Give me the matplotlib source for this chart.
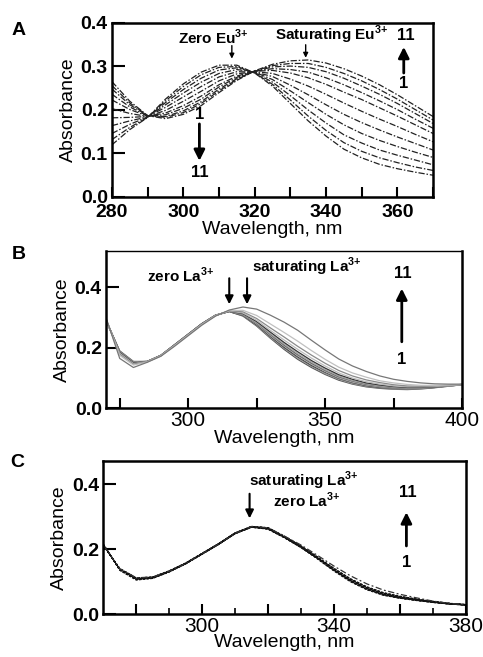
import numpy as np
import matplotlib
matplotlib.use("Agg")
import matplotlib.pyplot as plt

plt.rcParams['font.family'] = ['Liberation Sans', 'DejaVu Sans']
plt.rcParams['mathtext.fontset'] = 'custom'
plt.rcParams['mathtext.rm'] = 'Liberation Sans'
plt.rcParams['mathtext.bf'] = 'Liberation Sans:bold'

# ---- panel A: Eu3+ titration, 11 spectra ----
wl_a = [280, 285, 290, 295, 300, 305, 310, 315, 320, 325, 330, 335, 340, 345, 350, 355, 360, 365, 370]
spectra_a = [
    [0.120, 0.155, 0.183, 0.225, 0.260, 0.287, 0.303, 0.303, 0.285, 0.255, 0.215, 0.175, 0.140, 0.110, 0.090, 0.075, 0.065, 0.057, 0.050],
    [0.132, 0.160, 0.183, 0.221, 0.254, 0.281, 0.298, 0.300, 0.285, 0.259, 0.223, 0.186, 0.153, 0.125, 0.105, 0.090, 0.079, 0.069, 0.061],
    [0.146, 0.167, 0.184, 0.217, 0.247, 0.273, 0.292, 0.297, 0.286, 0.264, 0.233, 0.200, 0.170, 0.143, 0.124, 0.108, 0.096, 0.085, 0.074],
    [0.164, 0.175, 0.184, 0.212, 0.239, 0.264, 0.284, 0.293, 0.287, 0.270, 0.244, 0.217, 0.190, 0.166, 0.146, 0.130, 0.116, 0.103, 0.091],
    [0.182, 0.183, 0.185, 0.206, 0.230, 0.254, 0.276, 0.288, 0.287, 0.277, 0.257, 0.235, 0.212, 0.190, 0.171, 0.154, 0.138, 0.123, 0.108],
    [0.203, 0.192, 0.185, 0.199, 0.220, 0.243, 0.267, 0.283, 0.288, 0.284, 0.271, 0.255, 0.236, 0.216, 0.197, 0.179, 0.162, 0.144, 0.127],
    [0.223, 0.201, 0.186, 0.193, 0.210, 0.232, 0.258, 0.278, 0.289, 0.291, 0.285, 0.274, 0.259, 0.241, 0.224, 0.205, 0.186, 0.166, 0.146],
    [0.236, 0.207, 0.186, 0.189, 0.204, 0.225, 0.253, 0.275, 0.289, 0.295, 0.293, 0.287, 0.274, 0.258, 0.240, 0.221, 0.201, 0.179, 0.158],
    [0.248, 0.212, 0.187, 0.185, 0.198, 0.219, 0.248, 0.272, 0.289, 0.299, 0.301, 0.298, 0.288, 0.273, 0.255, 0.236, 0.215, 0.192, 0.169],
    [0.256, 0.216, 0.187, 0.183, 0.194, 0.215, 0.244, 0.270, 0.290, 0.302, 0.307, 0.307, 0.298, 0.284, 0.267, 0.247, 0.225, 0.201, 0.177],
    [0.265, 0.220, 0.187, 0.180, 0.190, 0.210, 0.240, 0.268, 0.290, 0.305, 0.313, 0.315, 0.308, 0.295, 0.278, 0.258, 0.235, 0.210, 0.185],
]

# ---- panel B: La3+ titration ----
wl_b = [270, 275, 280, 285, 290, 295, 300, 305, 310, 315, 320, 325, 330, 335, 340,
        345, 350, 355, 360, 365, 370, 375, 380, 385, 390, 395, 400]
spectra_b = [
    [0.290, 0.190, 0.155, 0.155, 0.175, 0.210, 0.245, 0.280, 0.308, 0.320, 0.305, 0.272, 0.232, 0.195, 0.162, 0.135, 0.112, 0.093, 0.080, 0.071, 0.066, 0.063, 0.062, 0.064, 0.068, 0.073, 0.078],
    [0.290, 0.189, 0.154, 0.155, 0.175, 0.210, 0.245, 0.280, 0.308, 0.320, 0.306, 0.274, 0.235, 0.199, 0.166, 0.139, 0.115, 0.096, 0.082, 0.073, 0.068, 0.064, 0.063, 0.065, 0.069, 0.073, 0.078],
    [0.291, 0.188, 0.153, 0.155, 0.175, 0.210, 0.245, 0.280, 0.308, 0.320, 0.307, 0.276, 0.238, 0.202, 0.170, 0.142, 0.119, 0.099, 0.085, 0.075, 0.069, 0.066, 0.064, 0.066, 0.069, 0.074, 0.078],
    [0.291, 0.187, 0.153, 0.155, 0.175, 0.209, 0.244, 0.279, 0.308, 0.321, 0.309, 0.279, 0.241, 0.206, 0.174, 0.146, 0.122, 0.101, 0.087, 0.077, 0.071, 0.067, 0.065, 0.066, 0.070, 0.074, 0.078],
    [0.292, 0.186, 0.152, 0.155, 0.175, 0.209, 0.244, 0.279, 0.308, 0.321, 0.310, 0.281, 0.244, 0.209, 0.177, 0.149, 0.125, 0.104, 0.090, 0.079, 0.073, 0.068, 0.066, 0.067, 0.070, 0.074, 0.078],
    [0.292, 0.185, 0.151, 0.154, 0.174, 0.209, 0.244, 0.279, 0.307, 0.321, 0.311, 0.283, 0.247, 0.213, 0.181, 0.153, 0.128, 0.107, 0.092, 0.081, 0.074, 0.070, 0.067, 0.068, 0.071, 0.074, 0.078],
    [0.293, 0.184, 0.150, 0.154, 0.174, 0.209, 0.244, 0.279, 0.307, 0.321, 0.313, 0.287, 0.252, 0.218, 0.187, 0.158, 0.133, 0.111, 0.096, 0.084, 0.077, 0.072, 0.069, 0.069, 0.071, 0.075, 0.079],
    [0.293, 0.182, 0.148, 0.154, 0.174, 0.208, 0.243, 0.278, 0.307, 0.322, 0.315, 0.291, 0.258, 0.226, 0.195, 0.166, 0.140, 0.117, 0.100, 0.088, 0.080, 0.074, 0.071, 0.071, 0.072, 0.075, 0.079],
    [0.295, 0.179, 0.146, 0.154, 0.174, 0.208, 0.243, 0.278, 0.307, 0.322, 0.319, 0.297, 0.266, 0.236, 0.205, 0.176, 0.149, 0.125, 0.107, 0.094, 0.085, 0.078, 0.074, 0.073, 0.074, 0.076, 0.079],
    [0.296, 0.175, 0.143, 0.153, 0.173, 0.207, 0.242, 0.277, 0.306, 0.323, 0.324, 0.307, 0.279, 0.251, 0.222, 0.191, 0.162, 0.136, 0.117, 0.103, 0.091, 0.084, 0.079, 0.076, 0.076, 0.077, 0.079],
    [0.300, 0.165, 0.135, 0.152, 0.172, 0.205, 0.240, 0.275, 0.305, 0.325, 0.335, 0.328, 0.308, 0.285, 0.258, 0.225, 0.193, 0.163, 0.140, 0.122, 0.107, 0.096, 0.089, 0.084, 0.081, 0.080, 0.080],
]
grays_b = ['#555555', '#9a9a9a', '#444444', '#b0b0b0', '#666666', '#a5a5a5',
           '#333333', '#bbbbbb', '#8a8a8a', '#c0c0c0', '#777777']

# ---- panel C: La3+ titration, control ----
wl_c = [270, 275, 280, 285, 290, 295, 300, 305, 310, 315, 320, 325,
        330, 335, 340, 345, 350, 355, 360, 365, 370, 375, 380]
spectra_c = [
    [0.215, 0.135, 0.105, 0.110, 0.130, 0.155, 0.185, 0.215, 0.248, 0.268, 0.262, 0.235, 0.205, 0.170, 0.133, 0.100, 0.075, 0.058, 0.049, 0.042, 0.036, 0.031, 0.028],
    [0.215, 0.136, 0.106, 0.111, 0.130, 0.155, 0.185, 0.215, 0.248, 0.268, 0.262, 0.236, 0.206, 0.171, 0.134, 0.101, 0.076, 0.059, 0.049, 0.042, 0.036, 0.031, 0.028],
    [0.214, 0.137, 0.107, 0.111, 0.131, 0.155, 0.185, 0.215, 0.248, 0.268, 0.263, 0.236, 0.206, 0.172, 0.135, 0.102, 0.077, 0.060, 0.050, 0.043, 0.037, 0.031, 0.028],
    [0.214, 0.137, 0.108, 0.112, 0.131, 0.156, 0.186, 0.216, 0.249, 0.269, 0.263, 0.237, 0.207, 0.172, 0.136, 0.103, 0.078, 0.060, 0.050, 0.043, 0.037, 0.032, 0.028],
    [0.214, 0.138, 0.108, 0.112, 0.131, 0.156, 0.186, 0.216, 0.249, 0.269, 0.264, 0.237, 0.207, 0.173, 0.136, 0.104, 0.079, 0.061, 0.051, 0.044, 0.037, 0.032, 0.028],
    [0.213, 0.138, 0.109, 0.113, 0.132, 0.156, 0.186, 0.216, 0.249, 0.269, 0.264, 0.238, 0.208, 0.174, 0.137, 0.105, 0.080, 0.062, 0.052, 0.044, 0.038, 0.032, 0.028],
    [0.213, 0.139, 0.110, 0.113, 0.132, 0.156, 0.186, 0.216, 0.249, 0.270, 0.265, 0.238, 0.208, 0.174, 0.138, 0.106, 0.081, 0.063, 0.052, 0.045, 0.038, 0.032, 0.029],
    [0.213, 0.139, 0.110, 0.113, 0.132, 0.157, 0.187, 0.217, 0.250, 0.270, 0.265, 0.239, 0.209, 0.175, 0.139, 0.107, 0.082, 0.064, 0.053, 0.045, 0.038, 0.032, 0.029],
    [0.212, 0.140, 0.111, 0.114, 0.133, 0.157, 0.187, 0.217, 0.250, 0.270, 0.266, 0.239, 0.209, 0.175, 0.140, 0.108, 0.083, 0.065, 0.054, 0.046, 0.039, 0.033, 0.029],
    [0.212, 0.140, 0.111, 0.114, 0.133, 0.157, 0.187, 0.217, 0.250, 0.270, 0.266, 0.240, 0.210, 0.176, 0.141, 0.109, 0.084, 0.066, 0.055, 0.046, 0.039, 0.033, 0.029],
    [0.212, 0.140, 0.112, 0.114, 0.132, 0.156, 0.186, 0.216, 0.249, 0.270, 0.266, 0.240, 0.213, 0.181, 0.148, 0.118, 0.093, 0.074, 0.061, 0.050, 0.040, 0.033, 0.029],
]

ION = '$^{\\mathbf{3{+}}}$'


def style_axes(ax, xlim, ylim, yticks, xticks, xlabels, xbold, xfs):
    ax.set_xlim(*xlim)
    ax.set_ylim(*ylim)
    for s in ax.spines.values():
        s.set_linewidth(1.8)
    ax.set_yticks(yticks)
    ax.set_yticklabels(['%.1f' % v for v in yticks], fontweight='bold', fontsize=14)
    ax.set_xticks(xticks)
    ax.set_xticklabels(xlabels, fontweight='bold' if xbold else 'normal', fontsize=xfs)
    ax.tick_params(direction='in', length=7, width=1.5, top=False, right=False)
    ax.tick_params(axis='y', length=9, pad=3)
    ax.set_ylabel('Absorbance', fontsize=14, labelpad=3)


def updown(ax, x, y0, y1, lw=2.0, ms=16):
    ax.annotate('', xy=(x, y1), xytext=(x, y0),
                arrowprops=dict(arrowstyle='-|>', color='black', lw=lw,
                                mutation_scale=ms, shrinkA=0, shrinkB=0))


fig = plt.figure(figsize=(4.83, 6.57), dpi=100)

# A
ax = fig.add_axes([0.2319, 0.7002, 0.6646, 0.2648])
for row in spectra_a:
    ax.plot(wl_a, row, color='#222222', lw=0.9, ls=(0, (5, 1.5, 1.2, 1.5)))
style_axes(ax, (280, 370), (0, 0.4), [0.0, 0.1, 0.2, 0.3, 0.4],
           [280, 290, 300, 310, 320, 330, 340, 350, 360, 370],
           ['280', '', '300', '', '320', '', '340', '', '360', ''], True, 14)
ax.tick_params(axis='x', pad=5)
ax.set_xlabel('Wavelength, nm', fontsize=14, labelpad=0)
ax.text(308.5, 0.366, 'Zero Eu' + ION, ha='center', va='center', fontsize=11, fontweight='bold')
ax.text(341.5, 0.372, 'Saturating Eu' + ION, ha='center', va='center', fontsize=11, fontweight='bold')
updown(ax, 313.6, 0.348, 0.318, lw=1.0, ms=7)
updown(ax, 334.3, 0.350, 0.320, lw=1.0, ms=7)
ax.text(362.5, 0.372, '11', ha='center', va='center', fontsize=12, fontweight='bold')
updown(ax, 361.8, 0.285, 0.345)
ax.text(361.8, 0.262, '1', ha='center', va='center', fontsize=12, fontweight='bold')
ax.text(304.5, 0.189, '1', ha='center', va='center', fontsize=12, fontweight='bold')
updown(ax, 304.5, 0.168, 0.083)
ax.text(304.5, 0.057, '11', ha='center', va='center', fontsize=12, fontweight='bold')
fig.text(0.039, 0.953, 'A', fontsize=14, fontweight='bold', ha='center', va='center')

# B
ax = fig.add_axes([0.2195, 0.3785, 0.7371, 0.2394])
for row, g in zip(spectra_b, grays_b):
    ax.plot(wl_b, row, color=g, lw=0.9)
style_axes(ax, (270, 400), (0, 0.52), [0.0, 0.2, 0.4],
           [275, 300, 325, 350, 375, 400],
           ['', '300', '', '350', '', '400'], False, 15)
ax.tick_params(axis='x', pad=2)
ax.spines['top'].set_linewidth(1.0)
ax.set_xlabel('Wavelength, nm', fontsize=14, labelpad=0)
ax.text(297.4, 0.439, 'zero La' + ION, ha='center', va='center', fontsize=11, fontweight='bold')
ax.text(343.3, 0.467, 'saturating La' + ION, ha='center', va='center', fontsize=11, fontweight='bold')
updown(ax, 315.0, 0.430, 0.344, lw=1.5, ms=12)
updown(ax, 321.5, 0.430, 0.344, lw=1.5, ms=12)
ax.text(378.2, 0.445, '11', ha='center', va='center', fontsize=12, fontweight='bold')
updown(ax, 378.0, 0.22, 0.396)
ax.text(378.0, 0.16, '1', ha='center', va='center', fontsize=12, fontweight='bold')
fig.text(0.038, 0.613, 'B', fontsize=14, fontweight='bold', ha='center', va='center')

# C
ax = fig.add_axes([0.2139, 0.0654, 0.7503, 0.2329])
for i, row in enumerate(spectra_c):
    if i == len(spectra_c) - 1:
        ax.plot(wl_c, row, color='#333333', lw=0.9, ls=(0, (5, 2, 1.5, 2)))
    else:
        ax.plot(wl_c, row, color='#111111', lw=0.9, ls=(0, (2, 1)))
style_axes(ax, (270, 380), (0, 0.472), [0.0, 0.2, 0.4],
           [280, 300, 320, 340, 360, 380],
           ['', '300', '', '340', '', '380'], False, 15)
ax.set_xticks([290, 310, 330, 350, 370], minor=True)
ax.tick_params(axis='x', which='minor', direction='in', length=4, width=1.2, top=False)
ax.tick_params(axis='x', pad=2)
ax.set_xlabel('Wavelength, nm', fontsize=14, labelpad=-1)
ax.text(331.0, 0.412, 'saturating La' + ION, ha='center', va='center', fontsize=11, fontweight='bold')
ax.text(331.7, 0.352, 'zero La' + ION, ha='center', va='center', fontsize=11, fontweight='bold')
updown(ax, 314.4, 0.371, 0.295, lw=1.5, ms=12)
ax.text(362.4, 0.376, '11', ha='center', va='center', fontsize=12, fontweight='bold')
updown(ax, 362.0, 0.21, 0.314)
ax.text(362.0, 0.159, '1', ha='center', va='center', fontsize=12, fontweight='bold')
fig.text(0.035, 0.296, 'C', fontsize=14, fontweight='bold', ha='center', va='center')

fig.savefig('out.png', dpi=100)
